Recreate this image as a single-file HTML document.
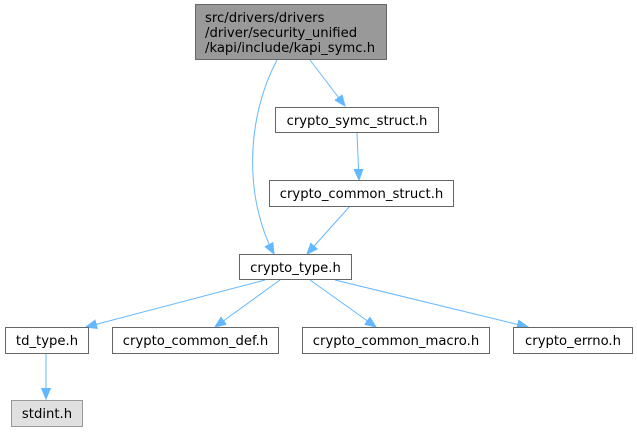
<!DOCTYPE html>
<html><head><meta charset="utf-8"><style>
html,body{margin:0;padding:0;background:#fff;width:637px;height:432px;overflow:hidden}
text{font-family:"DejaVu Sans","Liberation Sans",sans-serif;font-size:13.2px;fill:#000}
</style></head><body>
<svg width="637" height="432" viewBox="0 0 637 432" xmlns="http://www.w3.org/2000/svg">
<defs><marker id="a" markerWidth="12" markerHeight="12" refX="11" refY="6" orient="auto" markerUnits="userSpaceOnUse"><path d="M0,1.5 L11,6 L0,10.5 z" fill="#63b8ff" stroke="#63b8ff"/></marker></defs>
<g fill="none" stroke="#63b8ff" stroke-width="1">
<path d="M277,60 C245,120 245,200 274,254" marker-end="url(#a)"/>
<path d="M310,60 L345,106" marker-end="url(#a)"/>
<path d="M357,133 L359,180" marker-end="url(#a)"/>
<path d="M350,206 L307,254" marker-end="url(#a)"/>
<path d="M265,280 L86,327" marker-end="url(#a)"/>
<path d="M280,280 L215,327" marker-end="url(#a)"/>
<path d="M310,280 L376,327" marker-end="url(#a)"/>
<path d="M335,280 L528,327" marker-end="url(#a)"/>
<path d="M46,353 L46,399" marker-end="url(#a)"/>
</g>
<g stroke="#666" stroke-width="1">
<rect x="195.5" y="4.5" width="191" height="55" fill="#999"/>
<rect x="275.5" y="107.5" width="163" height="25" fill="#fff"/>
<rect x="269.5" y="180.5" width="184" height="26" fill="#fff"/>
<rect x="239.5" y="254.5" width="112" height="25" fill="#fff"/>
<rect x="5.5" y="327.5" width="83" height="26" fill="#fff"/>
<rect x="112.5" y="327.5" width="166" height="26" fill="#fff"/>
<rect x="302.5" y="327.5" width="187" height="26" fill="#fff"/>
<rect x="513.5" y="327.5" width="119" height="26" fill="#fff"/>
<rect x="11.5" y="400.5" width="71" height="26" fill="#e0e0e0" stroke="#999"/>
</g>
<text x="205" y="22">src/drivers/drivers</text>
<text x="205" y="37">/driver/security_unified</text>
<text x="205" y="52">/kapi/include/kapi_symc.h</text>
<g text-anchor="middle">
<text x="357" y="125">crypto_symc_struct.h</text>
<text x="361.5" y="198">crypto_common_struct.h</text>
<text x="295.5" y="272">crypto_type.h</text>
<text x="47" y="345">td_type.h</text>
<text x="195.5" y="345">crypto_common_def.h</text>
<text x="396" y="345">crypto_common_macro.h</text>
<text x="573" y="345">crypto_errno.h</text>
<text x="47" y="418">stdint.h</text>
</g>
</svg>
</body></html>
